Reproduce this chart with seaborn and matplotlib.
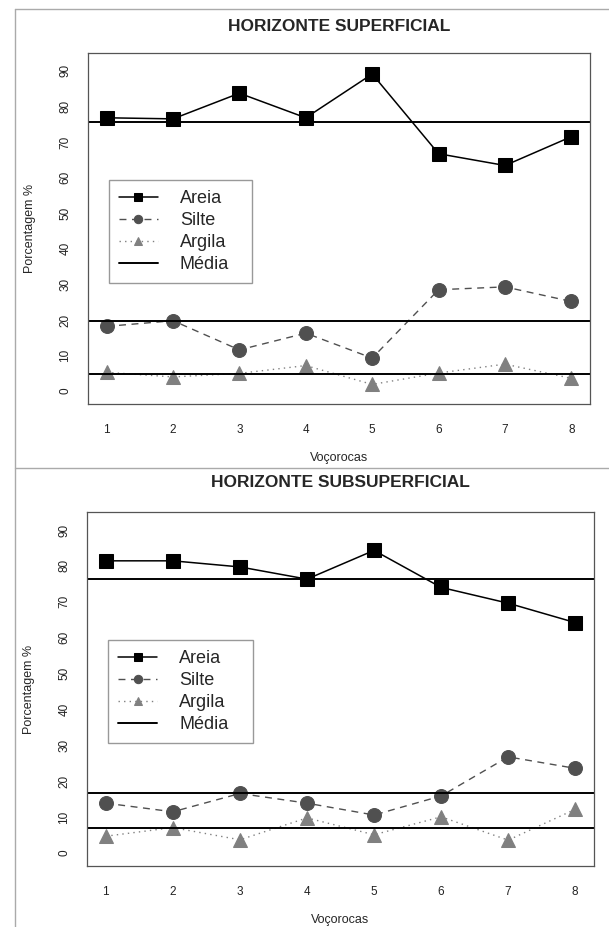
import numpy as np
import pandas as pd
import matplotlib
matplotlib.use("Agg")
import matplotlib.pyplot as plt
from matplotlib.lines import Line2D
import seaborn as sns

# dados
vocorocas = [1, 2, 3, 4, 5, 6, 7, 8]

areia_sup = [76.8, 76.5, 83.7, 76.8, 89.1, 66.7, 63.4, 71.5]
silte_sup = [18.2, 19.8, 11.6, 16.3, 9.3, 28.5, 29.3, 25.2]
argila_sup = [5.3, 4.0, 5.0, 7.2, 1.9, 5.1, 7.6, 3.6]

areia_sub = [81.4, 81.4, 79.7, 76.3, 84.3, 74.0, 69.6, 64.2]
silte_sub = [13.9, 11.5, 16.6, 13.9, 10.6, 15.9, 26.8, 23.6]
argila_sub = [4.7, 7.1, 3.7, 9.8, 5.1, 10.1, 3.6, 12.2]

titulos = ["HORIZONTE SUPERFICIAL", "HORIZONTE SUBSUPERFICIAL"]
yticks = [0, 10, 20, 30, 40, 50, 60, 70, 80, 90]

sns.set_style("white")
plt.rcParams["font.family"] = ["Liberation Sans", "DejaVu Sans"]

W, H = 609, 927
fig = plt.figure(figsize=(W / 100, H / 100), dpi=100)

# (left, top, right, bottom) em pixels
caixas = [(88, 53, 590, 404), (87, 512, 594, 866)]
pads_titulo = [16, 18]


def painel(ax, titulo, areia, silte, argila, pad_titulo):
  df = pd.DataFrame({"x": vocorocas, "areia": areia, "silte": silte, "argila": argila})
  sns.lineplot(data=df, x="x", y="areia", ax=ax, color="black", marker="s",
               markersize=10, markeredgecolor="black", linewidth=1.1, label="Areia")
  sns.lineplot(data=df, x="x", y="silte", ax=ax, color="#505050", marker="o",
               markersize=10, markeredgecolor="#505050", linewidth=1.0,
               linestyle=(0, (5, 4)), label="Silte")
  sns.lineplot(data=df, x="x", y="argila", ax=ax, color="#808080", marker="^",
               markersize=10, markeredgecolor="#808080", linewidth=1.0,
               linestyle=(0, (1, 3)), label="Argila")
  for i, serie in enumerate([areia, silte, argila]):
    ax.axhline(np.mean(serie), color="black", linewidth=1.4,
               label="Média" if i == 0 else None)

  ax.set_xlim(0.72, 8.28)
  ax.set_ylim(-3.6, 95)
  ax.set_xticks(vocorocas)
  ax.set_xticklabels([str(v) for v in vocorocas], fontsize=8.5, color="#222222")
  ax.set_yticks(yticks)
  ax.set_yticklabels([str(v) for v in yticks], fontsize=8.5, color="#222222",
                     rotation=90, va="center")
  ax.tick_params(axis="x", direction="out", length=5.5, width=0.8, color="#666666", pad=9)
  ax.tick_params(axis="y", direction="out", length=6, width=0.8, color="#666666", pad=6)
  for s in ax.spines.values():
    s.set_color("#555555")
    s.set_linewidth(0.9)

  ax.set_title(titulo, fontsize=12.5, fontweight="bold", pad=pad_titulo)
  ax.set_xlabel("Voçorocas", fontsize=9, va="center")
  ax.set_ylabel("Porcentagem %", fontsize=9, va="center", ha="center")
  h_ax = ax.get_position().height * H
  w_ax = ax.get_position().width * W
  ax.xaxis.set_label_coords(0.5, -54 / h_ax)
  ax.yaxis.set_label_coords(-58 / w_ax, 0.5)

  handles, labels = ax.get_legend_handles_labels()
  ax.legend(handles, labels, loc="upper left",
            bbox_to_anchor=(1.03, 29.2, 2.16, 30.1), bbox_transform=ax.transData,
            mode="expand", borderaxespad=0, fontsize=13, handlelength=2.2,
            handletextpad=1.2, labelspacing=0.28, borderpad=0.55, markerscale=0.6,
            fancybox=False, framealpha=1, edgecolor="#999999")


dados = [(areia_sup, silte_sup, argila_sup), (areia_sub, silte_sub, argila_sub)]
for (l, t, r, b), titulo, (ar, si, ag), pt in zip(caixas, titulos, dados, pads_titulo):
  ax = fig.add_axes([l / W, 1 - b / H, (r - l) / W, (b - t) / H])
  painel(ax, titulo, ar, si, ag, pt)

# moldura cinza da figura original
cinza = "#aaaaaa"
fig.add_artist(Line2D([15 / W, 1], [1 - 9 / H, 1 - 9 / H], transform=fig.transFigure, color=cinza, lw=1))
fig.add_artist(Line2D([15 / W, 15 / W], [0, 1 - 9 / H], transform=fig.transFigure, color=cinza, lw=1))
fig.add_artist(Line2D([15 / W, 1], [1 - 468 / H, 1 - 468 / H], transform=fig.transFigure, color=cinza, lw=1))

fig.savefig("out.png", dpi=100)
